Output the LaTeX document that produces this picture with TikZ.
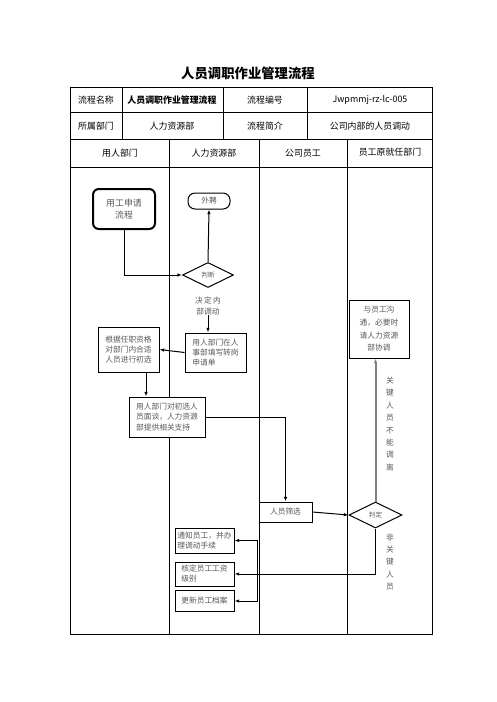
\documentclass[tikz,border=0pt]{standalone}
\usepackage{fontspec}
\setmainfont{Noto Sans CJK SC}
\usetikzlibrary{shapes.geometric,arrows.meta}
\definecolor{textgray}{gray}{0.35}
\definecolor{arrowgray}{gray}{0.5}
\tikzset{
  cell/.style={font=\fontsize{7.6}{9}\selectfont, inner sep=0pt},
  box/.style={draw, fill=white, line width=0.03cm, inner sep=0pt, align=center,
    text=textgray, font=\fontsize{6.6}{8.6}\selectfont},
  decision/.style={draw, fill=white, diamond, aspect=2, line width=0.03cm, inner sep=0pt,
    text=textgray, font=\fontsize{5.6}{7}\selectfont},
  lbl/.style={align=center, inner sep=0pt, text=textgray,
    font=\fontsize{6.6}{10.6}\selectfont},
  arr/.style={line width=0.03cm, -{Latex[length=4pt,width=3pt]}},
}
\begin{document}
\begin{tikzpicture}[x=0.03cm,y=-0.03cm]
  \useasboundingbox (0,0) rectangle (496,702);

  % Title
  \node (title) at (248,73) {\fontsize{11.4}{13}\selectfont\bfseries 人员调职作业管理流程};

  % Drawing table frame
  \draw [line width=0.03cm] (70,87) rectangle (432,634);
  \draw [line width=0.03cm] (70,112) -- (432,112);
  \draw [line width=0.03cm] (70,139) -- (432,139);
  \draw [line width=0.03cm] (70,167) -- (432,167);
  \draw [line width=0.03cm] (122,87) -- (122,139);
  \draw [line width=0.03cm] (223,87) -- (223,139);
  \draw [line width=0.03cm] (307,87) -- (307,139);
  \draw [line width=0.03cm] (169,139) -- (169,634);
  \draw [line width=0.03cm] (259,139) -- (259,634);
  \draw [line width=0.03cm] (347,139) -- (347,634);

  % Marking table cells
  \node [cell] (c11) at (96,100) {流程名称};
  \node [cell] (c12) at (172,100) {\bfseries 人员调职作业管理流程};
  \node [cell] (c13) at (265,100) {流程编号};
  \node [cell] (c14) at (370,100) {Jwpmmj-rz-lc-005};
  \node [cell] (c21) at (96,126) {所属部门};
  \node [cell] (c22) at (172,126) {人力资源部};
  \node [cell] (c23) at (265,126) {流程简介};
  \node [cell] (c24) at (370,126) {公司内部的人员调动};
  \node [cell] (h1) at (120,153) {用人部门};
  \node [cell] (h2) at (214,153) {人力资源部};
  \node [cell] (h3) at (303,153) {公司员工};
  \node [cell] (h4) at (390,152) {员工原就任部门};

  % Drawing boxes
  \node [box, line width=0.06cm, rounded corners=5, minimum width=62*0.03cm,
    minimum height=40*0.03cm, font=\fontsize{7.6}{9.8}\selectfont] (req) at (124,209) {用工申请\\流程};
  \node [box, rounded corners=6, minimum width=42*0.03cm, minimum height=16*0.03cm] (ext) at (209,201) {外聘};
  \node [decision, minimum width=51*0.03cm, minimum height=25*0.03cm] (judge) at (208,275) {判断};
  \node [lbl, font=\fontsize{6.6}{8.6}\selectfont] (inner) at (208,306) {决\,定\,内\\部调动};
  \node [box, align=left, minimum width=61*0.03cm, minimum height=39*0.03cm] (fill) at (215.5,352.5) {用人部门在人\\事部填写转岗\\申请单\phantom{填写}};
  \node [box, minimum width=61*0.03cm, minimum height=45*0.03cm] (screen) at (128.5,349.5) {根据任职资格\\对部门内合适\\人员进行初选};
  \node [box, align=left, minimum width=76*0.03cm, minimum height=40*0.03cm] (interview) at (167,417) {用人部门对初选人\\员面谈，人力资源\\部提供相关支持};
  \node [box, minimum width=53*0.03cm, minimum height=20*0.03cm] (pick) at (285.5,512) {人员筛选};
  \node [decision, minimum width=53*0.03cm, minimum height=26*0.03cm] (decide) at (375.5,515) {判定};
  \node [box, minimum width=60*0.03cm, minimum height=58*0.03cm,
    font=\fontsize{6.6}{10.8}\selectfont] (talk) at (379,329) {与员工沟\\通，必要时\\请人力资源\\部协调};
  \node [lbl] (keep) at (390,424) {关\\键\\人\\员\\不\\能\\调\\离};
  \node [lbl] (free) at (390,562) {非\\关\\键\\人\\员};
  \node [box, align=left, minimum width=59*0.03cm, minimum height=25*0.03cm] (notify) at (204.5,540.5) {通知员工，并办\\理调动手续\phantom{手续}};
  \node [box, align=left, minimum width=59*0.03cm, minimum height=24*0.03cm] (salary) at (204.5,574) {核定员工工资\\级别\phantom{员工工资}};
  \node [box, minimum width=59*0.03cm, minimum height=21*0.03cm] (archive) at (204.5,601) {更新员工档案};

  % Drawing connectors
  \draw [arr] (req.south) |- (judge.west);
  \draw [arr] (judge.north) -- (ext.south);
  \draw [arr] (inner.south) -- (inner.south |- fill.north);
  \draw [arr] (fill.west) -- (screen.east);
  \draw [arr] (screen.south -| 146,0) -- (interview.north -| 146,0);
  \draw [arr] (interview.east) -| (pick.north);
  \draw [arr] (pick.east) -- (decide.west);
  \draw [arr, draw=arrowgray, line width=0.06cm] (decide.north) -- (decide.north |- talk.south);
  \draw [arr] (decide.south) |- (salary.east);
  \coordinate (split) at (salary.east -| 257,0);
  \draw [arr] (split) |- (notify.east);
  \draw [arr] (split) |- (archive.east);
\end{tikzpicture}
\end{document}
